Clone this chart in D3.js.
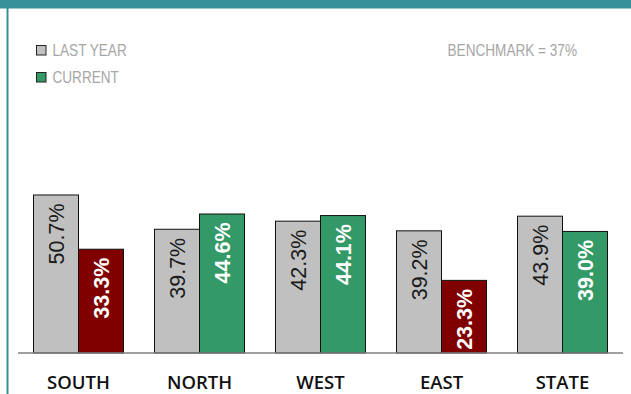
<!DOCTYPE html>
<html>
<head>
<meta charset="utf-8">
<script src="https://cdn.jsdelivr.net/npm/d3@7/dist/d3.min.js"></script>
<style>
  html, body { margin: 0; padding: 0; background: #fff; }
  svg { display: block; }
</style>
</head>
<body>
<svg id="chart" width="631" height="394"></svg>
<script>
// Regional rates, last year vs current, compared against a benchmark
const regions = ["SOUTH", "NORTH", "WEST", "EAST", "STATE"];
const lastYear = [50.7, 39.7, 42.3, 39.2, 43.9];
const current = [33.3, 44.6, 44.1, 23.3, 39.0];
const benchmark = 37;
const seriesNames = ["LAST YEAR", "CURRENT"];

const W = 631, H = 394;
const svg = d3.select("#chart");

const teal = "#37919a";
const gray = "#c0c0c0";
const green = "#339966";
const red = "#800000";

// Frame: teal band across the top and a thin teal rule down the left
svg.append("rect").attr("x", 0).attr("y", 0).attr("width", W).attr("height", 8.5).attr("fill", teal);
svg.append("rect").attr("x", 6.5).attr("y", 0).attr("width", 2).attr("height", H).attr("fill", teal);

const x = d3.scaleBand().domain(regions).range([18, 623]).paddingInner(0).paddingOuter(0);
const y = d3.scaleLinear().domain([0, 60]).range([353, 166]);

const rows = regions.map((r, i) => ({ region: r, values: [
  { key: seriesNames[0], v: lastYear[i] },
  { key: seriesNames[1], v: current[i] }
]}));

const barW = 45;
const groupPad = (x.bandwidth() - 2 * barW) / 2;

const g = svg.append("g");
const groups = g.selectAll("g.grp").data(rows).join("g")
  .attr("class", "grp")
  .attr("transform", d => `translate(${x(d.region) + groupPad},0)`);

groups.selectAll("rect").data(d => d.values).join("rect")
  .attr("x", (d, i) => i * barW)
  .attr("y", d => y(d.v))
  .attr("width", barW)
  .attr("height", d => y(0) - y(d.v))
  .attr("fill", d => d.key === seriesNames[0] ? gray : (d.v >= benchmark ? green : red))
  .attr("stroke", "#111")
  .attr("stroke-width", 1);

// Rotated value labels inside the bars, reading upward from the bottom
groups.selectAll("text.val").data(d => d.values).join("text")
  .attr("class", "val")
  .attr("transform", (d, i) => `translate(${i * barW + barW / 2 + 7.8},${y(d.v) + 8.5}) rotate(-90)`)
  .attr("text-anchor", "end")
  .attr("font-family", "'Liberation Sans', Arial, sans-serif")
  .attr("font-size", 21.5)
  .attr("font-weight", (d, i) => i === 0 ? "normal" : "bold")
  .attr("fill", (d, i) => i === 0 ? "#1a1a1a" : "#ffffff")
  .text(d => d.v.toFixed(1) + "%");

// Baseline
svg.append("line")
  .attr("x1", 18).attr("x2", 623)
  .attr("y1", y(0)).attr("y2", y(0))
  .attr("stroke", "#808080").attr("stroke-width", 1.5);

// Category axis labels
const xAxis = d3.axisBottom(x).tickSize(0).tickPadding(0);
const ax = svg.append("g").attr("transform", `translate(0,${y(0)})`).call(xAxis);
ax.select(".domain").remove();
ax.selectAll("text")
  .attr("y", 35.5)
  .attr("dy", 0)
  .attr("font-family", "'Open Sans', 'Noto Sans', sans-serif")
  .attr("font-weight", 600)
  .attr("font-size", 18.5)
  .attr("fill", "#111");

// Condensed grey caption text (horizontally narrowed sans)
function caption(sel, tx, ty, anchor, str) {
  sel.append("text")
    .attr("transform", `translate(${tx},${ty}) scale(0.85,1)`)
    .attr("text-anchor", anchor)
    .attr("font-family", "'Liberation Sans', Arial, sans-serif")
    .attr("font-size", 16)
    .attr("fill", "#a6a6a6")
    .text(str);
}

// Legend
const legendColors = [gray, green];
const leg = svg.append("g");
seriesNames.forEach((name, i) => {
  const ly = 45 + i * 27;
  leg.append("rect").attr("x", 36.5).attr("y", ly + 0.5).attr("width", 9.5).attr("height", 9.5)
    .attr("fill", legendColors[i]).attr("stroke", "#222").attr("stroke-width", 1);
  caption(leg, 52.5, ly + 10.8, "start", name);
});

// Benchmark note
caption(svg, 577, 55.8, "end", `BENCHMARK = ${benchmark}%`);
</script>
</body>
</html>
